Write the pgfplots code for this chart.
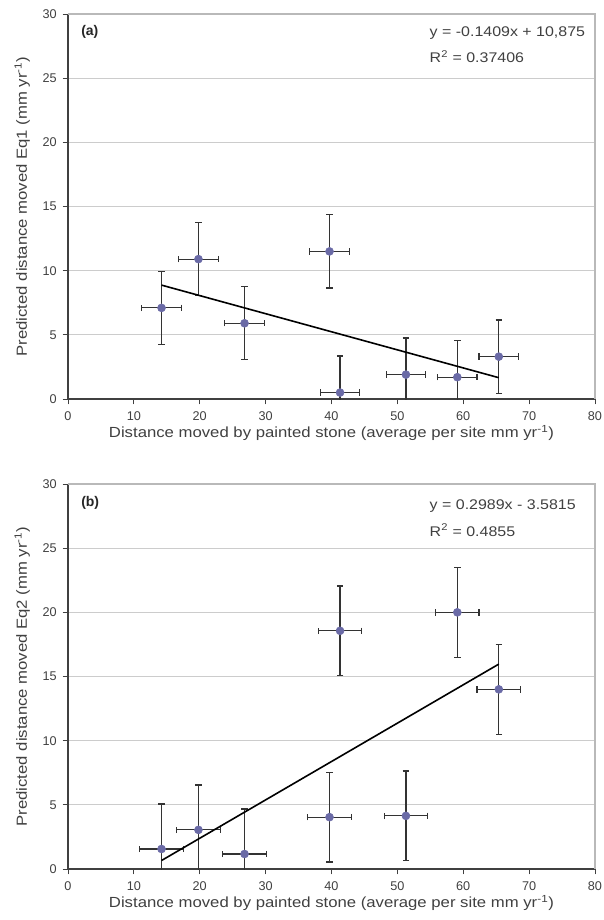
\documentclass[border=0pt]{standalone}
\usepackage{fontspec}
\setmainfont{Liberation Sans}
\newfontfamily\lbl{Liberation Sans}[FakeStretch=1.14]
\usepackage{pgfplots}
\usepackage{pgfplotstable}
\pgfplotsset{compat=1.18}
\definecolor{ptc}{HTML}{6A6AA6}
\definecolor{txt}{HTML}{404040}

\pgfplotstableread{
x y ex ey
14.2 7.1 3.0 2.85
19.8 10.9 3.0 2.85
26.8 5.9 3.0 2.85
39.7 11.5 3.0 2.85
41.3 0.5 3.0 2.85
51.3 1.9 3.0 2.85
59.1 1.7 3.0 2.85
65.4 3.3 3.0 2.85
}\dataA
\pgfplotstableread{
x y ex ey
14.2 1.56 3.3 3.5
19.8 3.05 3.3 3.5
26.8 1.17 3.3 3.5
39.7 4.04 3.3 3.5
41.3 18.56 3.3 3.5
51.3 4.14 3.3 3.5
59.1 20.0 3.3 3.5
65.4 14.0 3.3 3.5
}\dataB

\pgfplotsset{panel/.style={
  scale only axis, width=395.25pt, height=288.75pt,
  xmin=0, xmax=80, ymin=0, ymax=30,
  xtick={0,10,...,80}, ytick={0,5,...,30},
  axis x line*=bottom, axis y line*=left,
  axis line style={draw=black!75, line width=0.8pt, -},
  tick style={draw=black!75, line width=0.6pt}, tick align=outside, major tick length=4pt,
  ymajorgrids, grid style={gray!40, line width=0.6pt},
  tick label style={font=\fontsize{9.5}{11}\selectfont, text=txt},
  /pgf/number format/assume math mode=true,
  xticklabel style={yshift=-2pt},
  yticklabel style={xshift=-1pt},
  label style={font=\lbl\fontsize{11}{13}\selectfont, text=txt},
  xlabel style={at={(axis description cs:0.5,0)}, anchor=center, yshift=-25.5pt},
  ylabel style={at={(axis description cs:-0.087,0.5)}, anchor=center},
  xlabel={Distance moved by painted stone (average per site mm yr\textsuperscript{-1})},
}}
\pgfplotsset{ebars/.style={only marks, mark=none,
  error bars/.cd, x dir=both, x explicit, y dir=both, y explicit,
  error mark=|,
  error bar style={line width=0.9pt, black!80},
  error mark options={mark size=2.4pt, line width=0.9pt, black!80}}}
\pgfplotsset{pts/.style={only marks, mark=*, mark size=3pt, mark options={draw=ptc, fill=ptc}}}

\begin{document}
\begin{tikzpicture}
\begin{axis}[panel, name=A, at={(51pt,-299.25pt)}, anchor=south west,
  ylabel={Predicted distance moved Eq1 (mm yr\textsuperscript{-1})}]
\addplot[ebars] table[x=x, y=y, x error=ex, y error=ey] {\dataA};
\addplot[pts] table[x=x, y=y] {\dataA};
\addplot[black, line width=1.2pt, no marks] coordinates {(14.2,8.874) (65.4,1.660)};
\node[anchor=west, font=\bfseries\fontsize{10.5}{12}\selectfont, text=black!85] at (axis cs:1.3,28.6) {(a)};
\node[anchor=west, font=\lbl\fontsize{10.5}{12}\selectfont, text=txt] at (axis cs:54.2,28.5) {y = -0.1409x + 10,875};
\node[anchor=west, font=\lbl\fontsize{10.5}{12}\selectfont, text=txt] at (axis cs:54.2,26.7) {R\textsuperscript{2} = 0.37406};
\end{axis}
\draw[gray!55, line width=1.4pt] (A.north west) -- (A.north east) -- (A.south east);

\begin{axis}[panel, name=B, at={(51pt,-651.75pt)}, anchor=south west,
  ylabel={Predicted distance moved Eq2 (mm yr\textsuperscript{-1})}]
\addplot[ebars] table[x=x, y=y, x error=ex, y error=ey] {\dataB};
\addplot[pts] table[x=x, y=y] {\dataB};
\addplot[black, line width=1.2pt, no marks] coordinates {(14.2,0.663) (65.4,15.967)};
\node[anchor=west, font=\bfseries\fontsize{10.5}{12}\selectfont, text=black!85] at (axis cs:1.3,28.5) {(b)};
\node[anchor=west, font=\lbl\fontsize{10.5}{12}\selectfont, text=txt] at (axis cs:54.2,28.3) {y = 0.2989x - 3.5815};
\node[anchor=west, font=\lbl\fontsize{10.5}{12}\selectfont, text=txt] at (axis cs:54.2,26.4) {R\textsuperscript{2} = 0.4855};
\end{axis}
\draw[gray!55, line width=1.4pt] (B.north west) -- (B.north east) -- (B.south east);

\pgfresetboundingbox
\path[use as bounding box] (0pt,0pt) rectangle (452.25pt,-690pt);
\end{tikzpicture}
\end{document}
